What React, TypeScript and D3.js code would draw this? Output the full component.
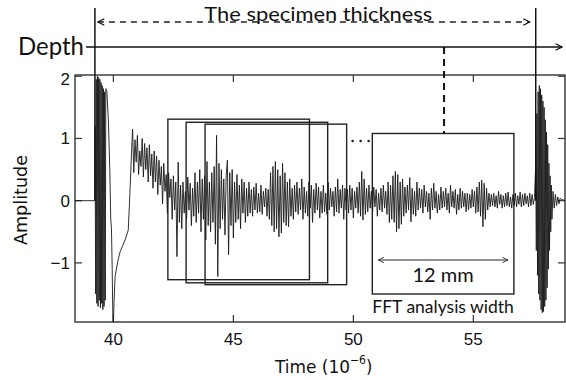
import React from "react";
import * as d3 from "d3";

// ---------- data ----------
const xTicks = [40, 45, 50, 55];
const yTicks = [-1, 0, 1, 2];
const xDomain = [38.4, 58.82];
const yDomain = [-1.95, 2.02];

// flat line before the front-wall echo (time, amplitude)
const preT = [38.4, 39.23];
const preV = [0, 0];

// front-wall echo, sampled every 0.025 us from 39.235
const burst1T0 = 39.235;
const burst1Dt = 0.025;
const burst1 = [1.2, -1.5, 1.95, -1.65, 2.0, -1.7, 1.98, -1.6, 1.95, -1.72, 1.9, -1.65, 1.85, -1.75, 1.8, -1.7, 1.75, -1.6, 1.8];

// slow saturation / recovery curve (time, amplitude)
const recoveryT = [39.725, 39.79, 39.85, 39.89, 39.92, 39.95, 39.98, 40.0, 40.03, 40.07, 40.18, 40.28, 40.49, 40.62, 40.7];
const recoveryV = [1.77, 1.3, 0.5, -0.3, -0.45, -1.1, -1.95, -1.95, -1.6, -1.22, -0.98, -0.82, -0.63, -0.47, 0.23];

// backscatter coda, sampled every 0.05 us from 40.75
const codaT0 = 40.75;
const codaDt = 0.05;
const coda = [
  0.72, 1.15, 0.45, 0.98, 0.62, 1.05, 0.42, 0.8, 0.55, 1.0, 0.38, 0.92, 0.5, 0.85, 0.3, 0.9, 0.4, 0.75, 0.2, 0.8,
  0.3, 0.72, 0.1, 0.65, 0.25, 0.55, -0.05, 0.6, 0.15, 0.42, -0.2, 0.45, 0.05, 0.35, -0.3, 0.4, -0.15, 0.3, -0.9, 0.62,
  -0.35, 0.25, -0.45, 0.3, -0.2, 0.15, -0.3, 0.38, -0.15, 0.28, -0.4, 0.2, -0.25, 0.45, -0.35, 0.3, -0.2, 0.5, -0.5, 0.35,
  -0.3, 0.4, -0.63, 0.63, -0.4, 0.3, -0.5, 0.45, -0.35, 0.55, -0.7, 1.05, -1.22, 0.6, -0.45, 0.5, -0.3, 0.35, -0.55, 0.4,
  0.65, -0.87, 0.45, -0.4, 0.5, -0.6, 0.3, -0.35, 0.42, -0.3, 0.25, -0.45, 0.35, -0.2, 0.3, -0.35, 0.2, -0.25, 0.3, -0.2,
  0.18, -0.25, 0.22, -0.15, 0.28, -0.2, 0.12, -0.18, 0.25, -0.22, 0.15, -0.1, 0.2, -0.25, 0.18, -0.3, 0.45, -0.4, 0.55, -0.5,
  0.63, -0.45, 0.5, -0.58, 0.4, -0.52, 0.6, -0.35, 0.45, -0.4, 0.3, -0.42, 0.35, -0.25, 0.2, -0.3, 0.25, -0.18, 0.3, -0.22,
  0.2, -0.15, 0.35, -0.3, 0.22, -0.2, 0.15, -0.25, 0.3, -0.12, 0.25, -0.35, 0.18, -0.2, 0.28, -0.15, 0.22, -0.28, 0.15, -0.2,
  0.25, -0.18, 0.12, -0.22, 0.3, -0.15, 0.2, -0.1, 0.15, -0.25, 0.22, -0.18, 0.35, -0.2, 0.18, -0.12, 0.25, -0.3, 0.2, -0.15,
  0.18, -0.2, 0.25, -0.15, 0.2, -0.28, 0.15, -0.12, 0.22, -0.2, 0.3, -0.25, 0.47, -0.31, 0.35, -0.22, 0.2, -0.18, 0.25, -0.12,
  0.15, -0.2, 0.22, -0.1, 0.18, -0.25, 0.12, -0.15, 0.2, -0.18, 0.25, -0.12, 0.15, -0.22, 0.3, -0.35, 0.25, -0.3, 0.4, -0.35,
  0.47, -0.5, 0.42, -0.45, 0.3, -0.38, 0.35, -0.25, 0.22, -0.2, 0.25, -0.15, 0.37, -0.34, 0.2, -0.22, 0.15, -0.25, 0.3, -0.15,
  0.2, -0.12, 0.18, -0.2, 0.25, -0.1, 0.15, -0.18, 0.12, -0.3, 0.2, -0.15, 0.28, -0.12, 0.15, -0.2, 0.1, -0.15, 0.22, -0.12,
  0.15, -0.1, 0.2, -0.15, 0.12, -0.2, 0.25, -0.1, 0.15, -0.12, 0.18, -0.22, 0.1, -0.15, 0.2, -0.12, 0.15, -0.1, 0.12, -0.18,
  0.12, -0.15, 0.1, -0.12, 0.18, -0.1, 0.15, -0.2, 0.22, -0.18, 0.3, -0.25, 0.33, -0.42, 0.28, -0.3, 0.2, -0.15, 0.12, -0.1,
  0.1, -0.08, 0.12, -0.1, 0.08, -0.12, 0.15, -0.06, 0.1, -0.12, 0.08, -0.1, 0.12, -0.08, 0.14, -0.1, 0.06, -0.12, 0.1, -0.08,
  0.12, -0.1, 0.08, -0.06, 0.14, -0.1, 0.1, -0.08, 0.12, -0.05, 0.08, -0.1, 0.12, -0.08, 0.1, -0.06, 0.05,
];

// back-wall echo, sampled every 0.025 us from 57.6
const burst2T0 = 57.6;
const burst2Dt = 0.025;
const burst2 = [0.6, -0.8, 1.4, -1.2, 1.75, -1.5, 1.85, -1.6, 1.8, -1.75, 1.7, -1.8, 1.6, -1.78, 1.5, -1.7, 1.3, -1.6, 1.1, -1.4, 0.9, -1.1, 0.6, -0.8, 0.4, -0.5, 0.25, -0.3];

// tail after the back-wall echo, every 0.05 us from 58.32
const tailT0 = 58.32;
const tailDt = 0.05;
const tail = [0.15, -0.12, 0.1, -0.08, 0.06, -0.05, 0.04, 0.02, 0.02, 0.01, 0.0];

// echo times (front wall, back wall) and the depth marker
const wallTimes = [39.23, 57.6];
const markerTime = 53.78;

// FFT analysis windows (time start, top amplitude, bottom amplitude)
const windowStarts = [42.27, 43.03, 43.82, 50.79];
const windowTops = [1.31, 1.26, 1.23, 1.08];
const windowBottoms = [-1.27, -1.32, -1.35, -1.5];
const windowWidth = 5.9;

// ---------- layout ----------
const W = 566;
const H = 380;
const L = 75, R = 565, T = 75, B = 322;

export default function App() {
  const x = d3.scaleLinear().domain(xDomain).range([L, R]);
  const y = d3.scaleLinear().domain(yDomain).range([B, T]);

  const pts: [number, number][] = [];
  preT.forEach((t, i) => pts.push([t, preV[i]]));
  burst1.forEach((v, i) => pts.push([burst1T0 + i * burst1Dt, v]));
  recoveryT.forEach((t, i) => pts.push([t, recoveryV[i]]));
  coda.forEach((v, i) => pts.push([codaT0 + i * codaDt, v]));
  burst2.forEach((v, i) => pts.push([burst2T0 + i * burst2Dt, v]));
  tail.forEach((v, i) => pts.push([tailT0 + i * tailDt, v]));

  const line = d3
    .line<[number, number]>()
    .x((d) => x(d[0]))
    .y((d) => y(d[1]));

  const tickLen = 7;
  const frameColor = "#333";
  const labelFont = "'Liberation Sans', Arial, sans-serif";
  const narrowFont = "'Liberation Sans Narrow', 'DejaVu Sans Condensed', 'Liberation Sans', sans-serif";
  const annFont = "Lato, 'Open Sans', sans-serif";

  const xFront = x(wallTimes[0]);
  const xBack = x(wallTimes[1]);
  const fftIdx = windowStarts.length - 1;
  const fftL = x(windowStarts[fftIdx]);
  const fftR = x(windowStarts[fftIdx] + windowWidth);
  const box3R = x(windowStarts[2] + windowWidth);

  return (
    <svg
      width={W}
      height={H}
      style={{ position: "absolute", left: 0, top: 0, background: "#fff" }}
    >
      <defs>
        <clipPath id="plotClip">
          <rect x={L} y={T - 1} width={R - L} height={B - T + 2} />
        </clipPath>
        <marker id="chevR" viewBox="0 0 10 10" refX="9" refY="5" markerWidth="8" markerHeight="8" markerUnits="userSpaceOnUse" orient="auto">
          <path d="M1,1 L9,5 L1,9" fill="none" stroke="#111" strokeWidth="1.6" />
        </marker>
        <marker id="chevL" viewBox="0 0 10 10" refX="1" refY="5" markerWidth="8" markerHeight="8" markerUnits="userSpaceOnUse" orient="auto">
          <path d="M9,1 L1,5 L9,9" fill="none" stroke="#111" strokeWidth="1.6" />
        </marker>
        <marker id="smallR" viewBox="0 0 10 10" refX="9" refY="5" markerWidth="7" markerHeight="7" markerUnits="userSpaceOnUse" orient="auto">
          <path d="M1,1 L9,5 L1,9" fill="none" stroke="#222" strokeWidth="1.2" />
        </marker>
        <marker id="smallL" viewBox="0 0 10 10" refX="1" refY="5" markerWidth="7" markerHeight="7" markerUnits="userSpaceOnUse" orient="auto">
          <path d="M9,1 L1,5 L9,9" fill="none" stroke="#222" strokeWidth="1.2" />
        </marker>
      </defs>

      {/* frame */}
      <rect x={L} y={T} width={R - L} height={B - T} fill="none" stroke={frameColor} strokeWidth={1.4} />

      {/* ticks */}
      {xTicks.map((t) => (
        <g key={"xt" + t}>
          <line x1={x(t)} x2={x(t)} y1={B} y2={B - tickLen} stroke={frameColor} strokeWidth={1.2} />
          <line x1={x(t)} x2={x(t)} y1={T} y2={T + tickLen} stroke={frameColor} strokeWidth={1.2} />
          <text x={x(t)} y={345} textAnchor="middle" fontFamily={labelFont} fontSize={17} fill="#111">
            {t}
          </text>
        </g>
      ))}
      {yTicks.map((v) => (
        <g key={"yt" + v}>
          <line x1={L} x2={L + tickLen} y1={y(v)} y2={y(v)} stroke={frameColor} strokeWidth={1.2} />
          <line x1={R} x2={R - tickLen} y1={y(v)} y2={y(v)} stroke={frameColor} strokeWidth={1.2} />
          <text x={70} y={y(v) + (v === 2 ? 9 : 6)} textAnchor="end" fontFamily={labelFont} fontSize={17} fill="#111">
            {v < 0 ? "\u2212" + Math.abs(v) : v}
          </text>
        </g>
      ))}

      {/* signal */}
      <path d={line(pts) || ""} fill="none" stroke="#1a1a1a" strokeWidth={0.9} clipPath="url(#plotClip)" />

      {/* analysis windows */}
      {windowStarts.map((s, i) => (
        <rect
          key={"w" + i}
          x={x(s)}
          y={y(windowTops[i])}
          width={x(s + windowWidth) - x(s)}
          height={y(windowBottoms[i]) - y(windowTops[i])}
          fill="none"
          stroke="#222"
          strokeWidth={1.4}
        />
      ))}

      {/* ellipsis dots */}
      {[6, 14, 22].map((d) => (
        <circle key={"dot" + d} cx={box3R + d} cy={141} r={1.3} fill="#222" />
      ))}

      {/* 12 mm arrow */}
      <line x1={fftL + 6} x2={fftR - 6} y1={260} y2={260} stroke="#222" strokeWidth={1} markerStart="url(#smallL)" markerEnd="url(#smallR)" />
      <text x={(fftL + fftR) / 2} y={282} textAnchor="middle" fontFamily={annFont} fontSize={20} fill="#111">
        12 mm
      </text>
      <text x={fftL} y={313} fontFamily={annFont} fontSize={17} fill="#111" textLength={fftR - fftL} lengthAdjust="spacingAndGlyphs">
        FFT analysis width
      </text>

      {/* wall echo vertical lines */}
      {wallTimes.map((t, i) => (
        <line key={"wall" + i} x1={x(t)} x2={x(t)} y1={8} y2={y(0)} stroke="#111" strokeWidth={1.5} />
      ))}

      {/* top dashed thickness arrow */}
      <line x1={xFront + 3} x2={xBack - 6} y1={22} y2={22} stroke="#222" strokeWidth={1.5} strokeDasharray="6,5" markerStart="url(#chevL)" markerEnd="url(#chevR)" />
      <text x={(xFront + xBack) / 2 + 3} y={21} textAnchor="middle" fontFamily={annFont} fontSize={20} fill="#111" textLength={228} lengthAdjust="spacingAndGlyphs">
        The specimen thickness
      </text>

      {/* depth axis */}
      <text x={18} y={55} fontFamily={annFont} fontSize={25} fill="#111" textLength={66} lengthAdjust="spacingAndGlyphs">
        Depth
      </text>
      <line x1={86} x2={562} y1={47} y2={47} stroke="#111" strokeWidth={1.6} markerEnd="url(#chevR)" />

      {/* dashed marker from depth axis down to the FFT window */}
      <line x1={x(markerTime)} x2={x(markerTime)} y1={47} y2={y(windowTops[fftIdx])} stroke="#111" strokeWidth={2} strokeDasharray="7,5" />

      {/* axis labels */}
      <text
        transform={`translate(27,200) rotate(-90)`}
        textAnchor="middle"
        fontFamily={narrowFont}
        fontSize={17}
        fill="#111"
        textLength={90}
        lengthAdjust="spacingAndGlyphs"
      >
        Amplitude
      </text>
      <text x={275} y={373} fontFamily={narrowFont} fontSize={18} fill="#111">
        <tspan textLength={75} lengthAdjust="spacingAndGlyphs">Time (10</tspan>
        <tspan dy={-9} fontSize={12}>−6</tspan>
        <tspan dy={9}>)</tspan>
      </text>
    </svg>
  );
}
